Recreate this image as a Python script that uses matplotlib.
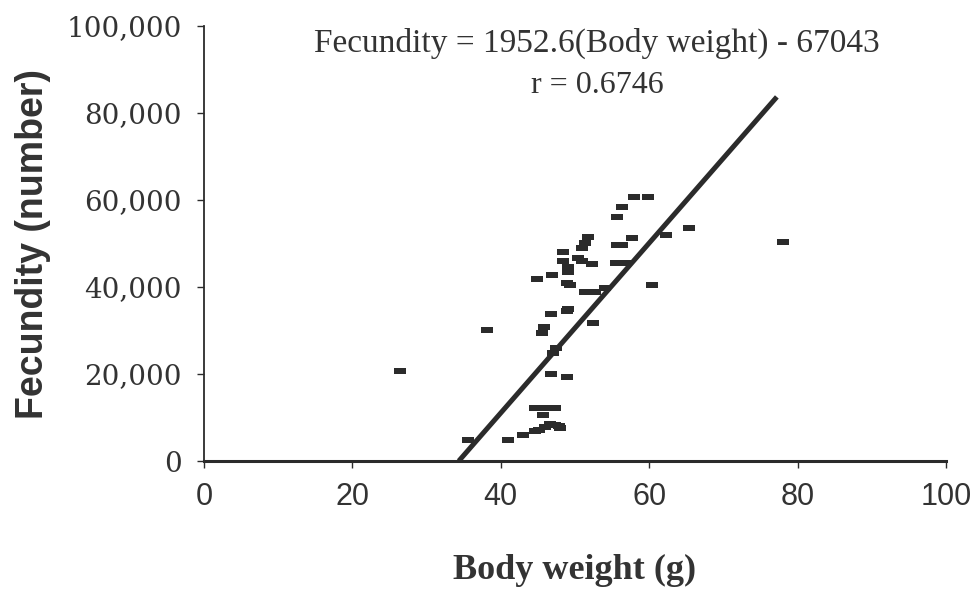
import numpy as np
import matplotlib
matplotlib.use("Agg")
import matplotlib.pyplot as plt
from matplotlib.path import Path
from matplotlib.ticker import FuncFormatter

# body weight (g) and fecundity (number)
body_weight = [26.4, 38.1, 35.6, 41.0, 43.0,
               44.6, 46.0, 47.3, 48.0, 46.6, 45.2, 47.8,
               44.6, 46.0, 47.3, 45.7,
               46.8, 48.9, 45.8, 45.6, 47.4, 47.0, 46.8, 48.9,
               51.8, 51.3, 50.9, 48.4, 48.4, 50.9, 50.4, 52.3, 49.1, 49.1,
               46.9, 44.9, 48.9, 49.3, 51.3, 52.7, 55.7, 49.1,
               58.0, 59.8, 56.3, 55.7, 65.4, 62.3, 57.7, 56.3, 55.5, 56.8,
               54.0, 60.4, 52.4, 78.0]
fecundity = [20700, 30100, 4800, 4800, 6000,
             7000, 7800, 8200, 7500, 8600, 7200, 8000,
             12200, 12200, 12200, 10600,
             20000, 19300, 30800, 29400, 26000, 24800, 33800, 34500,
             51500, 50100, 49000, 48100, 46000, 46000, 46700, 45300, 44600, 43500,
             42800, 41900, 40900, 40500, 38900, 38900, 49700, 35000,
             60800, 60800, 58400, 56100, 53600, 52000, 51300, 49700, 45500, 45500,
             39800, 40500, 31700, 50400]

slope = 1952.6
intercept = -67043
r_value = 0.6746
x_ticks = [0, 20, 40, 60, 80, 100]
y_ticks = [0, 20000, 40000, 60000, 80000, 100000]

ink = "#2b2b2b"
dash = Path([(-1, -0.5), (1, -0.5), (1, 0.5), (-1, 0.5), (-1, -0.5)],
            [Path.MOVETO, Path.LINETO, Path.LINETO, Path.LINETO, Path.CLOSEPOLY])

fig = plt.figure(figsize=(9.77, 5.95), dpi=100)
ax = fig.add_axes([0.2088, 0.2252, 0.7595, 0.7311])

ax.plot(body_weight, fecundity, linestyle="none", marker=dash, markersize=8,
        color=ink, markeredgewidth=0)

# regression line
x_fit = np.array([-intercept / slope, 77.2])
ax.plot(x_fit, slope * x_fit + intercept, color=ink, linewidth=3.6,
        solid_capstyle="butt")

ax.set_xlim(0, 100)
ax.set_ylim(0, 100000)
ax.set_xticks(x_ticks)
ax.set_yticks(y_ticks)
ax.yaxis.set_major_formatter(FuncFormatter(lambda v, p: "{:,}".format(int(v))))

for s in ["top", "right"]:
    ax.spines[s].set_visible(False)
ax.spines["left"].set_linewidth(1.3)
ax.spines["left"].set_color(ink)
ax.spines["bottom"].set_linewidth(2.2)
ax.spines["bottom"].set_color(ink)

ax.tick_params(axis="x", direction="out", length=5, width=1, color=ink,
               pad=10, labelcolor="#333333")
ax.tick_params(axis="y", direction="out", length=5, width=1, color=ink,
               pad=11, labelcolor="#333333")
for lab in ax.get_xticklabels():
    lab.set_family("Liberation Sans")
    lab.set_fontsize(22)
for lab in ax.get_yticklabels():
    lab.set_family("DejaVu Serif")
    lab.set_fontsize(20)

ax.set_ylabel("Fecundity (number)", fontsize=27, fontweight="bold",
              family="Liberation Sans", color="#333333", labelpad=11)
ax.set_xlabel("Body weight (g)", fontsize=26, fontweight="bold",
              family="Liberation Serif", color="#333333", labelpad=30)

ax.text(53, 96000, "Fecundity = 1952.6(Body weight) - 67043", ha="center",
        va="center", fontsize=24, family="Liberation Serif", color="#333333")
ax.text(53, 86300, "r = 0.6746", ha="center", va="center", fontsize=23,
        family="Liberation Serif", color="#333333")

fig.savefig("out.png", dpi=100)
